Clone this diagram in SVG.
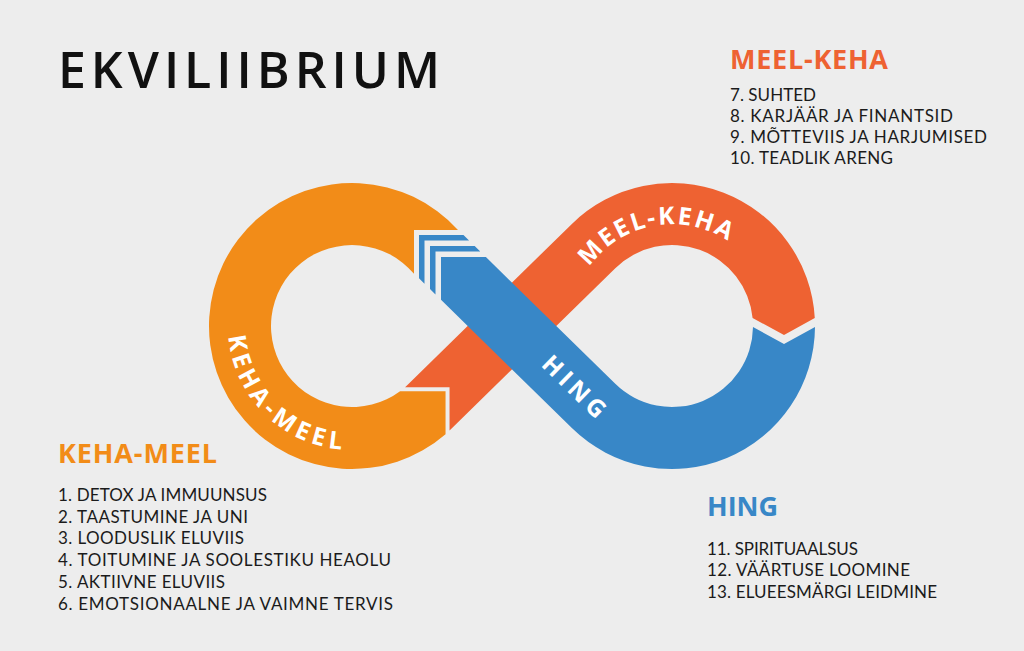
<svg xmlns="http://www.w3.org/2000/svg" width="1024" height="651" viewBox="0 0 1024 651">
<style>
.bg{fill:#EDEDED}
.orange{fill:#F28C18}
.red{fill:#EE6232}
.blue{fill:#3887C7}
.band{font-family:"Open Sans","Liberation Sans",sans-serif;font-weight:700;font-size:24.5px;fill:#FFFFFF}
.title{font-family:"Open Sans","Liberation Sans",sans-serif;font-weight:600;font-size:50px;fill:#111111}
.head{font-family:"Open Sans","Liberation Sans",sans-serif;font-weight:700;font-size:27px}
.list{font-family:Lato,"Liberation Sans",sans-serif;font-weight:400;font-size:17px;fill:#1B1B1B}
</style>
<defs>
<path id="pKM" d="M 250.4 254.9 A 124 124 0 0 0 423.1 427.6"/>
<path id="pMK" d="M 571.55 343.71 A 102 102 0 0 1 770.5 299.6"/>
</defs>
<rect class="bg" x="0" y="0" width="1024" height="651"/>

<g id="title">
<text class="title" x="58" y="88" textLength="382" lengthAdjust="spacing">EKVILIIBRIUM</text>
</g>

<g id="connectors">
<g id="node-keha-meel-band">
<path class="orange" d="M 445.55 434.15 L 445.55 391.18 L 400.09 391.18 A 81 81 0 1 1 414 273.87 L 414 230 L 457.99 230 A 143 143 0 1 0 445.55 434.15 Z"/>
<text class="band" letter-spacing="4.5"><textPath href="#pKM" startOffset="50.6%" text-anchor="middle">KEHA-MEEL</textPath></text>
</g>
<g id="node-meel-keha-band">
<path class="red" d="M 449.55 387.18 L 405.08 387.18 A 81 81 0 0 0 408.71 383.84 L 571.89 223.88 A 143 143 0 0 1 814.78 318 L 784 335 L 752.6 318 A 81 81 0 0 0 615.29 268.16 L 452.11 428.12 A 143 143 0 0 1 449.55 430.56 Z"/>
<text class="band" letter-spacing="2.2"><textPath href="#pMK" startOffset="51.4%" text-anchor="middle">MEEL-KEHA</textPath></text>
</g>
<g id="node-hing-band">
<path class="blue" d="M 815 327 L 784 344 L 753 327 A 81 81 0 0 1 615.29 383.84 L 485.9 257 L 441 257 L 441 299.81 L 571.89 428.12 A 143 143 0 0 0 815 327 Z"/>
<polygon class="blue" points="419,278.25 419,235 463.45,235 469.06,240.5 424.5,240.5 424.5,283.64"/>
<polygon class="blue" points="430,289.03 430,246 474.67,246 480.29,251.5 435.5,251.5 435.5,294.42"/>
<text class="band" letter-spacing="4.5" transform="translate(576,388) rotate(44.4)" x="0" y="8.8" text-anchor="middle">HING</text>
</g>
</g>

<g id="node-meel-keha">
<text class="head" x="730" y="68.5" fill="#EE6232" textLength="158" lengthAdjust="spacing">MEEL-KEHA</text>
<text class="list" x="730" y="100.5" textLength="86" lengthAdjust="spacing">7. SUHTED</text>
<text class="list" x="730" y="121.5" textLength="223" lengthAdjust="spacing">8. KARJÄÄR JA FINANTSID</text>
<text class="list" x="730" y="142.5" textLength="257" lengthAdjust="spacing">9. MÕTTEVIIS JA HARJUMISED</text>
<text class="list" x="730" y="163.5" textLength="163" lengthAdjust="spacing">10. TEADLIK ARENG</text>
</g>

<g id="node-keha-meel">
<text class="head" x="58" y="462.5" fill="#F28C18" textLength="159" lengthAdjust="spacing">KEHA-MEEL</text>
<text class="list" x="58" y="500.5" textLength="209" lengthAdjust="spacing">1. DETOX JA IMMUUNSUS</text>
<text class="list" x="58" y="522.5" textLength="190" lengthAdjust="spacing">2. TAASTUMINE JA UNI</text>
<text class="list" x="58" y="544" textLength="186" lengthAdjust="spacing">3. LOODUSLIK ELUVIIS</text>
<text class="list" x="58" y="566" textLength="333" lengthAdjust="spacing">4. TOITUMINE JA SOOLESTIKU HEAOLU</text>
<text class="list" x="58" y="587.5" textLength="167" lengthAdjust="spacing">5. AKTIIVNE ELUVIIS</text>
<text class="list" x="58" y="609.5" textLength="335" lengthAdjust="spacing">6. EMOTSIONAALNE JA VAIMNE TERVIS</text>
</g>

<g id="node-hing">
<text class="head" x="707" y="516" fill="#3887C7" textLength="71" lengthAdjust="spacing">HING</text>
<text class="list" x="707" y="554.5" textLength="151" lengthAdjust="spacing">11. SPIRITUAALSUS</text>
<text class="list" x="707" y="576" textLength="203" lengthAdjust="spacing">12. VÄÄRTUSE LOOMINE</text>
<text class="list" x="707" y="597.5" textLength="230" lengthAdjust="spacing">13. ELUEESMÄRGI LEIDMINE</text>
</g>
</svg>
